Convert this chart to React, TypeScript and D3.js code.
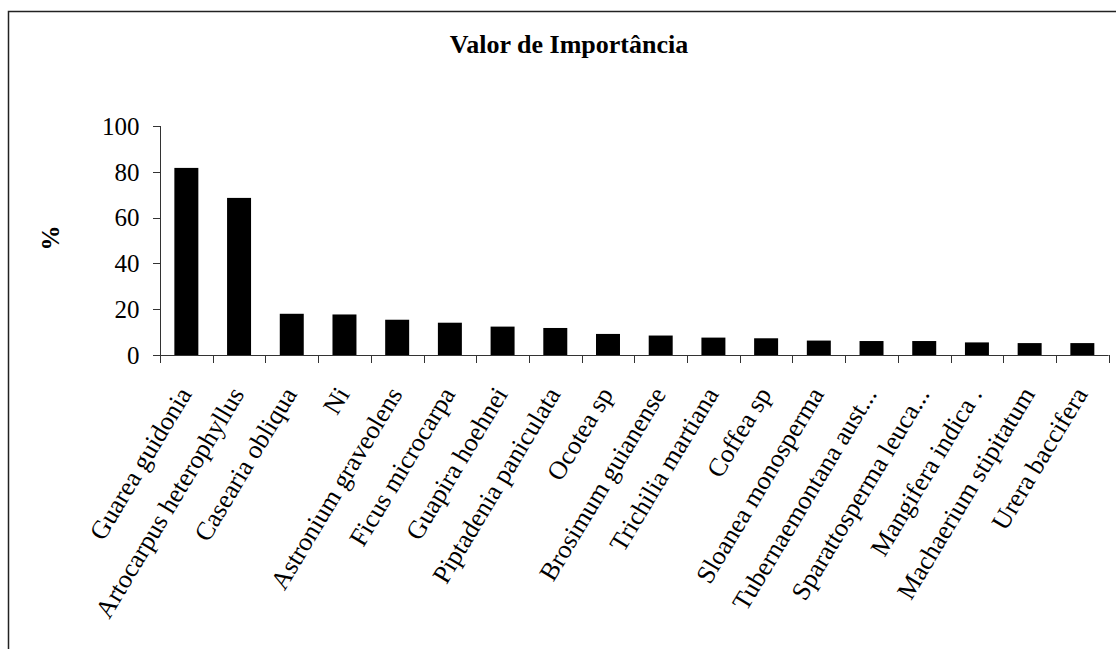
import React from "react";
import * as d3 from "d3";

const categories: string[] = [
  "Guarea guidonia",
  "Artocarpus heterophyllus",
  "Casearia obliqua",
  "Ni",
  "Astronium graveolens",
  "Ficus microcarpa",
  "Guapira hoehnei",
  "Piptadenia paniculata",
  "Ocotea sp",
  "Brosimum guianense",
  "Trichilia martiana",
  "Coffea sp",
  "Sloanea monosperma",
  "Tubernaemontana aust...",
  "Sparattosperma leuca...",
  "Mangifera indica .",
  "Machaerium stipitatum",
  "Urera baccifera",
];

const values: number[] = [
  81.7, 68.6, 18.0, 17.7, 15.4, 14.1, 12.4, 11.8, 9.2, 8.5, 7.6, 7.3, 6.3, 6.1, 6.1, 5.5, 5.2, 5.2,
];

const yTicks: number[] = [0, 20, 40, 60, 80, 100];

const title = "Valor de Importância";
const yLabel = "%";

const W = 1116;
const H = 649;
const FONT = "'Liberation Serif', 'Times New Roman', serif";

export default function App() {
  const x0 = 160;
  const x1 = 1108.7;
  const pi = 0.545;
  const x = d3
    .scaleBand<string>()
    .domain(categories)
    .range([x0, x1])
    .paddingInner(pi)
    .paddingOuter(pi / 2);
  const y = d3.scaleLinear().domain([0, 100]).range([355, 126]);
  const step = x.step();
  const boundaries = d3.range(categories.length + 1).map((i) => x0 + i * step);

  return (
    <svg
      width={W}
      height={H}
      style={{ position: "absolute", left: 0, top: 0, background: "#fff" }}
      fontFamily={FONT}
    >
      <rect x={0} y={0} width={W} height={H} fill="#fff" />
      {/* frame */}
      <rect x={8.5} y={11.5} width={W + 20} height={H + 20} fill="none" stroke="#222" strokeWidth={1.5} />
      {/* title */}
      <text x={569} y={52.5} textAnchor="middle" fontSize={26} fontWeight="bold" fill="#000">
        {title}
      </text>
      {/* y label */}
      <text
        transform={`translate(59,238) rotate(-90)`}
        textAnchor="middle"
        fontSize={25}
        fontWeight="bold"
        fill="#000"
      >
        {yLabel}
      </text>
      {/* bars */}
      {categories.map((c, i) => (
        <rect
          key={c}
          x={x(c)}
          y={y(values[i])}
          width={x.bandwidth()}
          height={y(0) - y(values[i])}
          fill="#000"
        />
      ))}
      {/* y axis */}
      <line x1={x0 + 0.5} x2={x0 + 0.5} y1={y(100)} y2={y(0)} stroke="#333" strokeWidth={1} />
      {yTicks.map((t) => (
        <g key={t}>
          <line x1={x0 - 7} x2={x0} y1={Math.round(y(t)) + 0.5} y2={Math.round(y(t)) + 0.5} stroke="#333" />
          <text x={139.5} y={y(t)} dy="0.35em" textAnchor="end" fontSize={25} fill="#000">
            {t}
          </text>
        </g>
      ))}
      {/* x axis */}
      <line x1={x0} x2={x1} y1={Math.round(y(0)) + 0.5} y2={Math.round(y(0)) + 0.5} stroke="#333" />
      {boundaries.map((b, i) => (
        <line
          key={i}
          x1={Math.round(b) + 0.5}
          x2={Math.round(b) + 0.5}
          y1={y(0)}
          y2={y(0) + 8}
          stroke="#333"
        />
      ))}
      {categories.map((c) => {
        const cx = (x(c) as number) + x.bandwidth() / 2;
        return (
          <text
            key={c}
            transform={`translate(${cx + 6},394) rotate(-59)`}
            textAnchor="end"
            fontSize={26}
            fill="#000"
          >
            {c}
          </text>
        );
      })}
    </svg>
  );
}
